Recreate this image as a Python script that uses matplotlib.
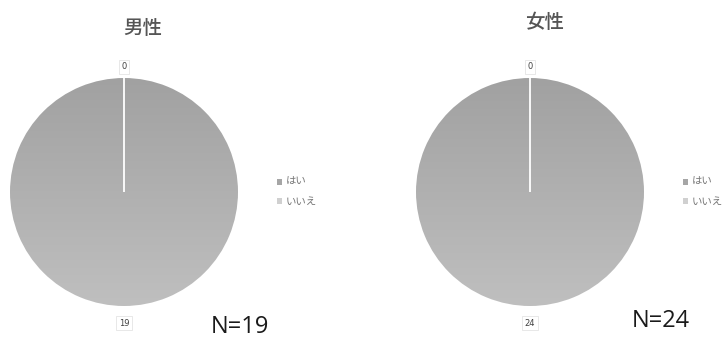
import numpy as np
import matplotlib.pyplot as plt
from matplotlib.patches import Patch

plt.rcParams['font.family'] = ['Noto Sans CJK JP', 'DejaVu Sans']

# データ
groups = ['男性', '女性']
answers = ['はい', 'いいえ']
counts = {'男性': [19, 0], '女性': [24, 0]}
n_labels = ['N=19', 'N=24']

W, H = 724, 338
fig = plt.figure(figsize=(W / 100, H / 100), dpi=100)
fig.patch.set_facecolor('white')

# 各グラフの配置（ピクセル）: 円の中心x, 中心y, 半径, タイトル位置, N位置, 凡例位置
layout = [
    dict(cx=124, cy=192, r=114, title=(143, 29), n=(240, 327), leg=(272, 192)),
    dict(cx=530, cy=192, r=114, title=(545, 22), n=(661, 321), leg=(678, 192)),
]

top_col = np.array([0xa1, 0xa1, 0xa1]) / 255
bot_col = np.array([0xbf, 0xbf, 0xbf]) / 255
leg_cols = ['#a6a6a6', '#d0d0d0']

for g, lay, ntext in zip(groups, layout, n_labels):
    vals = counts[g]
    pad = 1.3
    ax = fig.add_axes([(lay['cx'] - lay['r'] * pad) / W,
                       (H - lay['cy'] - lay['r'] * pad) / H,
                       2 * lay['r'] * pad / W, 2 * lay['r'] * pad / H])
    wedges, _ = ax.pie(vals, startangle=90, counterclock=False,
                       colors=['#b0b0b0', '#d0d0d0'], radius=1,
                       wedgeprops=dict(linewidth=0))
    # 上から下へのグラデーション
    grad = np.linspace(0, 1, 256)[:, None, None]
    img = top_col * (1 - grad) + bot_col * grad
    img = np.repeat(img, 2, axis=1)
    for w, v in zip(wedges, vals):
        if v == 0:
            continue
        im = ax.imshow(img, extent=[-1, 1, -1, 1], origin='upper',
                       aspect='auto', zorder=2)
        im.set_clip_path(w)
        w.set_visible(False)
    # 区切り線（0件の扇形との境界）
    theta = np.deg2rad(90)
    ax.plot([0, np.cos(theta)], [0, np.sin(theta)], color='white', lw=1.3,
            zorder=3, solid_capstyle='butt')
    ax.set_xlim(-pad, pad)
    ax.set_ylim(-pad, pad)
    ax.set_aspect('equal')
    ax.axis('off')

    # データラベル
    box = dict(boxstyle='square,pad=0.3', fc='white', ec='#e4e4e4', lw=0.6)
    ax.text(0, 1.1, str(vals[1]), ha='center', va='center', fontsize=6,
            color='#404040', bbox=box, family='DejaVu Sans')
    ax.text(0, -1.15, str(vals[0]), ha='center', va='center', fontsize=6,
            color='#404040', bbox=box, family='DejaVu Sans')

    fig.text(lay['title'][0] / W, 1 - lay['title'][1] / H, g,
             ha='center', va='center', fontsize=14, color='#555555',
             weight='medium')
    fig.text(lay['n'][0] / W, 1 - lay['n'][1] / H, ntext,
             ha='center', va='center', fontsize=17, color='#1a1a1a',
             family='Open Sans')

    handles = [Patch(facecolor=c, edgecolor='none') for c in leg_cols]
    fig.legend(handles, answers, loc='center left',
               bbox_to_anchor=(lay['leg'][0] / W, 1 - lay['leg'][1] / H),
               frameon=False, fontsize=7.5, handlelength=0.5, handleheight=0.5,
               handletextpad=0.3, labelspacing=0.9, borderpad=0,
               labelcolor='#777777')

fig.savefig('out.png', dpi=100)
